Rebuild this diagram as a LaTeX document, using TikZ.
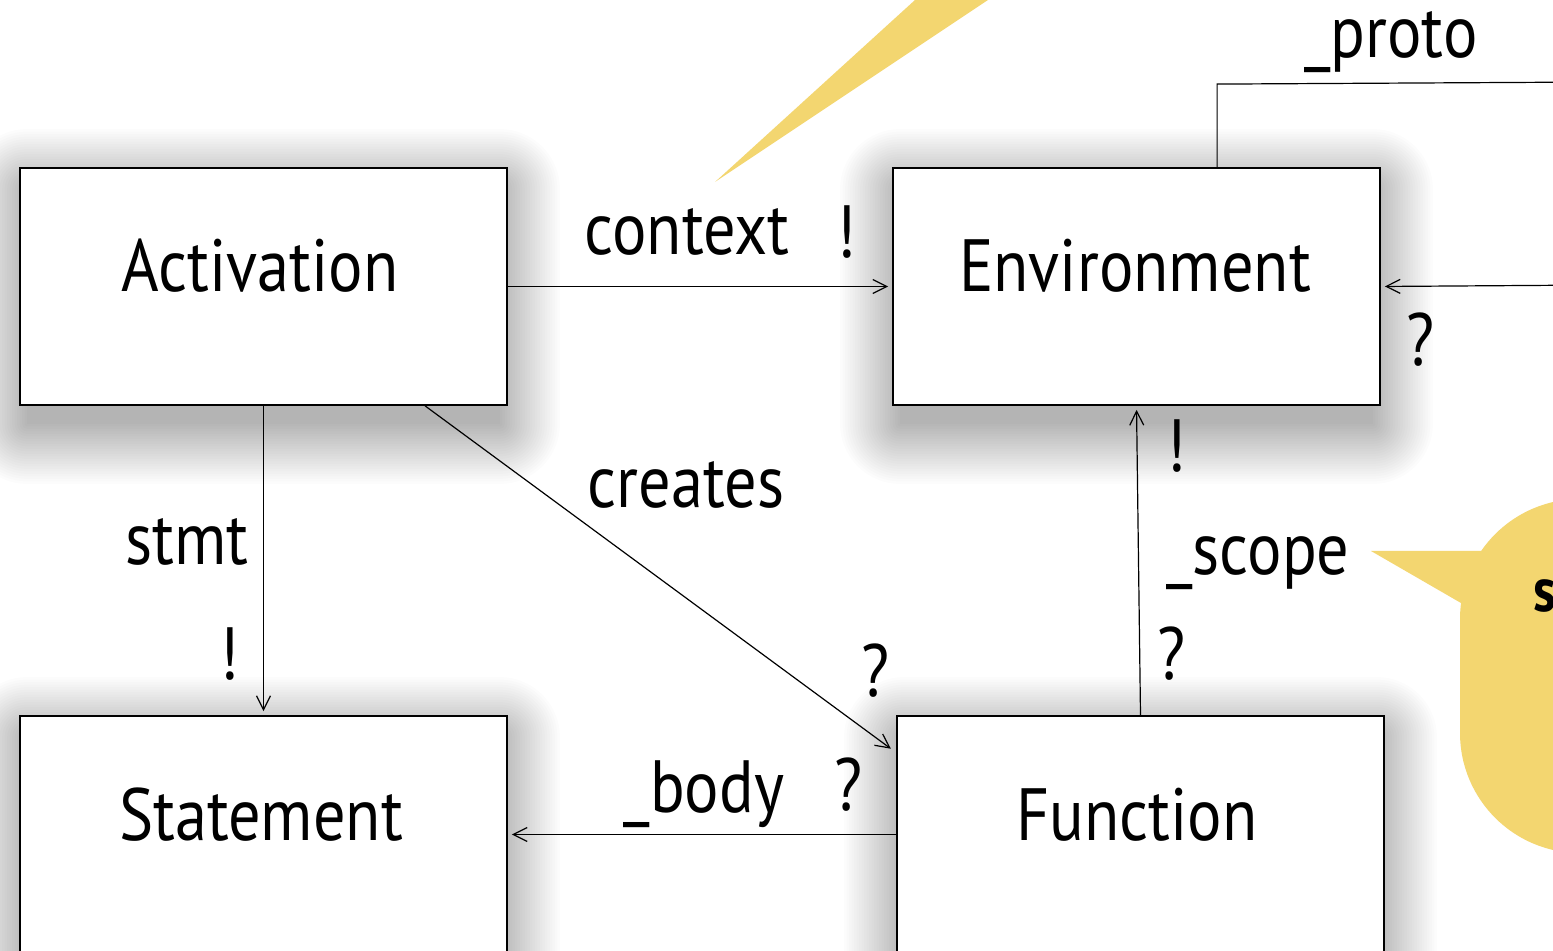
\documentclass[tikz,border=0pt]{standalone}
\usepackage{fontspec}
\setmainfont{PT Sans}[FakeStretch=0.87]
\usetikzlibrary{arrows.meta,calc}
\definecolor{note}{RGB}{243,214,112}
\pgfdeclarelayer{canvas}
\pgfdeclarelayer{shade}
\pgfsetlayers{canvas,shade,main}

\begin{document}
\begin{tikzpicture}[x=0.5pt,y=-0.5pt,
  classbox/.style={draw=black, line width=0.9pt, fill=white, minimum width=243.5pt,
    minimum height=118.5pt, inner sep=0pt},
  boxname/.style={anchor=base, font=\fontsize{37}{44}\selectfont},
  lbl/.style={anchor=base, font=\fontsize{37}{44}\selectfont},
  link/.style={line width=0.6pt, -{Straight Barb[length=7pt,width=7pt,line width=0.6pt]},
    shorten >=2pt},
  plain/.style={line width=0.6pt},
  note/.style={fill=note, draw=none}]

\useasboundingbox (0,0) rectangle (1553,951);
\begin{pgfonlayer}{canvas}
  \fill[white] (0,0) rectangle (1553,951);
\end{pgfonlayer}

% speech-bubble pointers and body
\fill[note] (715,182) -- (937,-20) -- (1018,-20) -- cycle;
\fill[note, rounded corners=60pt] (1460,499) -- (1900,499) -- (1900,853) -- (1460,853) -- cycle;
\fill[note] (1371,551) -- (1540,551) -- (1540,650) -- (1480,614) -- cycle;
\node[anchor=base west, inner sep=0pt, font=\fontsize{31}{36}\selectfont\bfseries] (noteTxt) at (1533,612) {s};

% class boxes
\node[classbox] (act)  at (263.5,286.5)  {};
\node[classbox] (env)  at (1136.5,286.5) {};
\node[classbox] (stm)  at (263.5,834.5)  {};
\node[classbox] (func) at (1140.5,834.5) {};

% soft drop shadows under the boxes
\begin{pgfonlayer}{shade}
  \foreach \b in {act,env,stm,func}{
    \foreach \k in {0,...,24}{
      \fill[black, opacity=0.011, rounded corners=1.25*\k pt]
        ($(\b.north west)+(8-2.5*\k,22-2.5*\k)$) rectangle ($(\b.south east)+(-8+2.5*\k,18+2.5*\k)$);
    }
  }
\end{pgfonlayer}

\node[boxname] (actT)  at (260,292)  {Activation};
\node[boxname] (envT)  at (1135,292) {Environment};
\node[boxname] (stmT)  at (261,840)  {Statement};
\node[boxname] (funcT) at (1137,840) {Function};

% associations
\coordinate (protoEnd) at (1600,82);
\coordinate (backIn)   at (1600,285);

\draw[link] (act.east) -- (env.west);
\draw[link] (act.south) -- (stm.north);
\draw[link] ($(act.south west)+(406,0)$) -- ($(func.north west)+(-2,36)$);
\draw[link] (func.west) -- (stm.east);
\draw[link] (func.north) -- (env.south);
\draw[plain] ($(env.north west)+(325,0)$) -- ++(0,-83) -- (protoEnd);
\draw[link] (backIn) -- (env.east);

% role names and multiplicities
\node[lbl] (lContext) at (687,255) {context};
\node[lbl] (mContext) at (846,258) {!};
\node[lbl] (lStmt)    at (187,565) {stmt};
\node[lbl] (mStmt)    at (229,680) {!};
\node[lbl] (lCreates) at (686,508) {creates};
\node[lbl] (mCreates) at (876,697) {?};
\node[lbl] (lBody)    at (704,812) {\_body};
\node[lbl] (mBody)    at (849,810) {?};
\node[lbl] (lScope)   at (1258,575) {\_scope};
\node[lbl] (mScopeA)  at (1176,472) {!};
\node[lbl] (mScopeB)  at (1172,680) {?};
\node[lbl] (lProto)   at (1391,58) {\_proto};
\node[lbl] (mBack)    at (1421,366) {?};

\end{tikzpicture}
\end{document}
